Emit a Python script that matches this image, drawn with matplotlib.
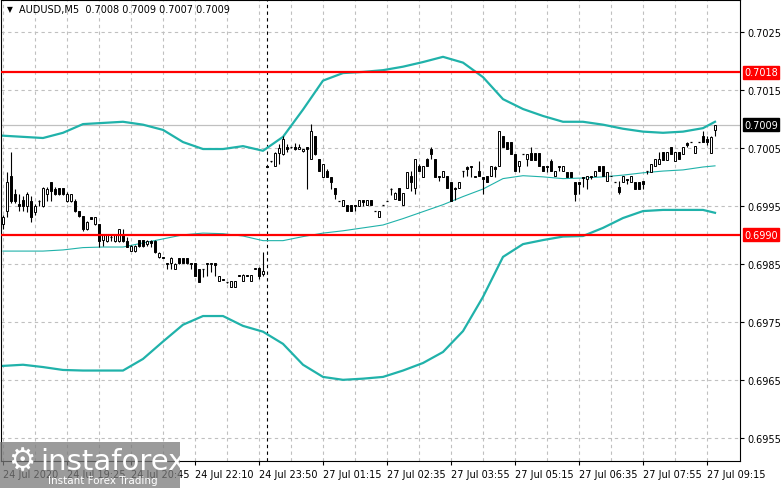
import matplotlib
matplotlib.use('Agg')
from matplotlib import pyplot as plt
from matplotlib.patches import Rectangle
import numpy as np

# AUDUSD M5 candles
opens = [0.69919, 0.69941, 0.70002, 0.69971, 0.69953, 0.69960, 0.69950, 0.69959, 0.69940, 0.69959,
         0.69950, 0.69971, 0.69991, 0.69979, 0.69981, 0.69981, 0.69959, 0.69959, 0.69959, 0.69941,
         0.69933, 0.69910, 0.69931, 0.69919, 0.69919, 0.69891, 0.69890, 0.69897, 0.69890, 0.69890,
         0.69902, 0.69890, 0.69872, 0.69872, 0.69891, 0.69891, 0.69884, 0.69890, 0.69890, 0.69862,
         0.69862, 0.69850, 0.69852, 0.69841, 0.69860, 0.69860, 0.69860, 0.69852, 0.69852, 0.69841,
         0.69841, 0.69850, 0.69850, 0.69852, 0.69821, 0.69824, 0.69819, 0.69810, 0.69810, 0.69831,
         0.69821, 0.69831, 0.69821, 0.69841, 0.69843, 0.69833, 0.70019, 0.70028, 0.70019, 0.70041,
         0.70040, 0.70052, 0.70052, 0.70052, 0.70048, 0.70045, 0.70052, 0.70031, 0.70071, 0.70031,
         0.70000, 0.70010, 0.70000, 0.69981, 0.69959, 0.69950, 0.69952, 0.69952, 0.69952, 0.69950,
         0.69960, 0.69952, 0.69960, 0.69941, 0.69931, 0.69952, 0.69959, 0.69979, 0.69962, 0.69981,
         0.69952, 0.69981, 0.70002, 0.69981, 0.70019, 0.70000, 0.70031, 0.70048, 0.70031, 0.70002,
         0.70000, 0.70002, 0.69991, 0.69981, 0.69981, 0.70010, 0.70017, 0.70019, 0.70002, 0.70010,
         0.70000, 0.70002, 0.70002, 0.70017, 0.70019, 0.70071, 0.70060, 0.70060, 0.70040, 0.70019,
         0.70040, 0.70031, 0.70041, 0.70041, 0.70041, 0.70019, 0.70019, 0.70028, 0.70002, 0.70019,
         0.70010, 0.70009, 0.70009, 0.69991, 0.69991, 0.70000, 0.69997, 0.70002, 0.70002, 0.70019,
         0.70019, 0.69993, 0.70002, 0.69991, 0.69983, 0.69991, 0.69997, 0.69991, 0.69991, 0.69991,
         0.69993, 0.70010, 0.70009, 0.70019, 0.70022, 0.70043, 0.70029, 0.70052, 0.70028, 0.70043,
         0.70040, 0.70059, 0.70060, 0.70041, 0.70060, 0.70071, 0.70066, 0.70041, 0.70080]
highs = [0.69934, 0.70009, 0.70043, 0.69979, 0.69971, 0.69967, 0.69974, 0.69967, 0.69953, 0.69960,
         0.69983, 0.69983, 0.69991, 0.69983, 0.69981, 0.69981, 0.69974, 0.69971, 0.69962, 0.69941,
         0.69933, 0.69924, 0.69931, 0.69931, 0.69919, 0.69900, 0.69902, 0.69900, 0.69902, 0.69910,
         0.69910, 0.69897, 0.69883, 0.69883, 0.69891, 0.69891, 0.69891, 0.69891, 0.69891, 0.69871,
         0.69862, 0.69852, 0.69862, 0.69852, 0.69860, 0.69860, 0.69860, 0.69852, 0.69852, 0.69841,
         0.69841, 0.69852, 0.69852, 0.69852, 0.69829, 0.69824, 0.69819, 0.69821, 0.69821, 0.69831,
         0.69833, 0.69831, 0.69831, 0.69843, 0.69845, 0.69871, 0.70019, 0.70028, 0.70043, 0.70057,
         0.70071, 0.70057, 0.70052, 0.70059, 0.70057, 0.70048, 0.70052, 0.70091, 0.70071, 0.70031,
         0.70022, 0.70014, 0.70000, 0.69981, 0.69959, 0.69960, 0.69952, 0.69952, 0.69952, 0.69960,
         0.69960, 0.69960, 0.69960, 0.69941, 0.69941, 0.69952, 0.69959, 0.69981, 0.69974, 0.69981,
         0.69972, 0.70009, 0.70010, 0.70031, 0.70022, 0.70019, 0.70033, 0.70052, 0.70031, 0.70002,
         0.70010, 0.70002, 0.69991, 0.69983, 0.69991, 0.70010, 0.70019, 0.70019, 0.70002, 0.70028,
         0.70000, 0.70002, 0.70019, 0.70019, 0.70079, 0.70071, 0.70060, 0.70060, 0.70040, 0.70028,
         0.70040, 0.70040, 0.70052, 0.70041, 0.70041, 0.70019, 0.70019, 0.70031, 0.70010, 0.70019,
         0.70019, 0.70009, 0.70009, 0.69991, 0.69991, 0.70000, 0.70002, 0.70002, 0.70010, 0.70019,
         0.70019, 0.70009, 0.70002, 0.69991, 0.69993, 0.70002, 0.69997, 0.70002, 0.69991, 0.69991,
         0.69993, 0.70010, 0.70022, 0.70031, 0.70043, 0.70043, 0.70043, 0.70052, 0.70043, 0.70043,
         0.70052, 0.70060, 0.70060, 0.70053, 0.70060, 0.70079, 0.70071, 0.70071, 0.70090]
lows = [0.69910, 0.69931, 0.69955, 0.69955, 0.69941, 0.69941, 0.69940, 0.69922, 0.69934, 0.69950,
        0.69948, 0.69959, 0.69959, 0.69969, 0.69969, 0.69969, 0.69957, 0.69957, 0.69940, 0.69931,
        0.69907, 0.69909, 0.69928, 0.69917, 0.69879, 0.69881, 0.69888, 0.69890, 0.69888, 0.69888,
        0.69888, 0.69879, 0.69872, 0.69871, 0.69879, 0.69879, 0.69881, 0.69879, 0.69869, 0.69860,
        0.69860, 0.69841, 0.69841, 0.69841, 0.69850, 0.69852, 0.69850, 0.69841, 0.69829, 0.69819,
        0.69828, 0.69829, 0.69836, 0.69829, 0.69821, 0.69822, 0.69817, 0.69810, 0.69810, 0.69829,
        0.69821, 0.69829, 0.69821, 0.69841, 0.69824, 0.69829, 0.70017, 0.70026, 0.70019, 0.70022,
        0.70038, 0.70043, 0.70050, 0.70047, 0.70048, 0.70043, 0.69979, 0.70031, 0.70038, 0.70010,
        0.70000, 0.70000, 0.69979, 0.69962, 0.69959, 0.69950, 0.69941, 0.69941, 0.69941, 0.69950,
        0.69950, 0.69952, 0.69952, 0.69941, 0.69931, 0.69952, 0.69959, 0.69969, 0.69962, 0.69960,
        0.69952, 0.69981, 0.69976, 0.69971, 0.70010, 0.70000, 0.70019, 0.70031, 0.70000, 0.69993,
        0.70000, 0.69981, 0.69959, 0.69960, 0.69981, 0.70000, 0.70002, 0.70000, 0.70000, 0.70002,
        0.69971, 0.69991, 0.70002, 0.70000, 0.70019, 0.70052, 0.70048, 0.70040, 0.70010, 0.70009,
        0.70040, 0.70019, 0.70029, 0.70029, 0.70019, 0.70010, 0.70009, 0.70010, 0.70002, 0.70010,
        0.70010, 0.70000, 0.70000, 0.69959, 0.69971, 0.69983, 0.69979, 0.69997, 0.70002, 0.70010,
        0.70002, 0.69993, 0.70002, 0.69991, 0.69971, 0.69991, 0.69988, 0.69991, 0.69979, 0.69979,
        0.69979, 0.70005, 0.70009, 0.70019, 0.70022, 0.70029, 0.70029, 0.70040, 0.70028, 0.70031,
        0.70040, 0.70052, 0.70060, 0.70041, 0.70060, 0.70060, 0.70055, 0.70041, 0.70070]
closes = [0.69931, 0.69991, 0.69959, 0.69959, 0.69950, 0.69950, 0.69971, 0.69931, 0.69950, 0.69960,
          0.69981, 0.69979, 0.69976, 0.69971, 0.69971, 0.69971, 0.69971, 0.69971, 0.69941, 0.69933,
          0.69910, 0.69922, 0.69928, 0.69931, 0.69890, 0.69900, 0.69900, 0.69898, 0.69900, 0.69910,
          0.69890, 0.69879, 0.69881, 0.69881, 0.69881, 0.69881, 0.69890, 0.69886, 0.69871, 0.69869,
          0.69860, 0.69852, 0.69860, 0.69850, 0.69852, 0.69852, 0.69852, 0.69850, 0.69829, 0.69819,
          0.69840, 0.69852, 0.69852, 0.69848, 0.69829, 0.69822, 0.69819, 0.69821, 0.69821, 0.69829,
          0.69831, 0.69829, 0.69831, 0.69843, 0.69829, 0.69838, 0.70017, 0.70028, 0.70041, 0.70050,
          0.70066, 0.70048, 0.70052, 0.70048, 0.70052, 0.70048, 0.70048, 0.70079, 0.70040, 0.70010,
          0.70022, 0.70000, 0.69991, 0.69971, 0.69959, 0.69960, 0.69941, 0.69941, 0.69950, 0.69960,
          0.69957, 0.69960, 0.69952, 0.69941, 0.69941, 0.69952, 0.69959, 0.69978, 0.69972, 0.69960,
          0.69972, 0.70009, 0.69991, 0.70031, 0.70010, 0.70019, 0.70019, 0.70040, 0.70000, 0.70000,
          0.70010, 0.69981, 0.69959, 0.69979, 0.69991, 0.70009, 0.70014, 0.70017, 0.70000, 0.70002,
          0.69997, 0.69991, 0.70019, 0.70014, 0.70079, 0.70052, 0.70048, 0.70040, 0.70010, 0.70028,
          0.70040, 0.70040, 0.70029, 0.70029, 0.70019, 0.70010, 0.70017, 0.70010, 0.70010, 0.70017,
          0.70019, 0.70000, 0.70000, 0.69971, 0.69988, 0.69998, 0.70002, 0.70000, 0.70010, 0.70010,
          0.70002, 0.70009, 0.70002, 0.69991, 0.69974, 0.70002, 0.69995, 0.70002, 0.69979, 0.69979,
          0.69988, 0.70009, 0.70022, 0.70031, 0.70031, 0.70029, 0.70043, 0.70040, 0.70043, 0.70031,
          0.70052, 0.70055, 0.70060, 0.70053, 0.70060, 0.70060, 0.70060, 0.70069, 0.70090]

# Bollinger bands, read every 5 bars
band_bars = list(range(0, 180, 5)) + [178]
band_upper = [0.70071, 0.70069, 0.70067, 0.70076, 0.70091, 0.70093, 0.70095, 0.70090, 0.70081, 0.70060,
              0.70048, 0.70048, 0.70053, 0.70045, 0.70069, 0.70116, 0.70166, 0.70179, 0.70181, 0.70184,
              0.70190, 0.70198, 0.70207, 0.70197, 0.70172, 0.70134, 0.70117, 0.70105, 0.70095, 0.70095,
              0.70090, 0.70083, 0.70078, 0.70076, 0.70078, 0.70084, 0.70095]
band_middle = [0.69872, 0.69872, 0.69872, 0.69874, 0.69878, 0.69879, 0.69879, 0.69886, 0.69893, 0.69900,
               0.69903, 0.69902, 0.69898, 0.69890, 0.69890, 0.69897, 0.69903, 0.69907, 0.69912, 0.69917,
               0.69928, 0.69940, 0.69952, 0.69966, 0.69979, 0.69997, 0.70002, 0.70000, 0.69997, 0.69998,
               0.70000, 0.70003, 0.70007, 0.70010, 0.70012, 0.70017, 0.70019]
band_lower = [0.69674, 0.69676, 0.69672, 0.69667, 0.69666, 0.69666, 0.69666, 0.69686, 0.69716, 0.69745,
              0.69760, 0.69760, 0.69743, 0.69733, 0.69712, 0.69676, 0.69655, 0.69650, 0.69652, 0.69655,
              0.69666, 0.69679, 0.69698, 0.69734, 0.69793, 0.69862, 0.69884, 0.69891, 0.69897, 0.69898,
              0.69912, 0.69929, 0.69941, 0.69943, 0.69943, 0.69943, 0.69938]

levels = [0.7018, 0.6990]
last_price = 0.7009
separator_bar = 66
time_labels = ['24 Jul 2020', '24 Jul 19:25', '24 Jul 20:45', '24 Jul 22:10', '24 Jul 23:50',
               '27 Jul 01:15', '27 Jul 02:35', '27 Jul 03:55', '27 Jul 05:15', '27 Jul 06:35',
               '27 Jul 07:55', '27 Jul 09:15']
price_ticks = [0.6955, 0.6965, 0.6975, 0.6985, 0.6995, 0.7005, 0.7015, 0.7025]

W, H = 781, 489
fig = plt.figure(figsize=(W / 100, H / 100), dpi=100)
ax = fig.add_axes([1 / W, 27 / H, 739 / W, 461 / H])

n = len(opens)
x = np.arange(n)
o = np.array(opens); c = np.array(closes)
hi = np.array(highs); lo = np.array(lows)

# wicks
ax.vlines(x, lo, hi, color='black', linewidth=0.8, zorder=3)
# bodies
bw = 0.7
for i in range(n):
    if abs(c[i] - o[i]) < 0.000015:
        ax.hlines(o[i], i - bw / 2, i + bw / 2, color='black', linewidth=0.9, zorder=4)
    elif c[i] > o[i]:
        ax.bar(i, c[i] - o[i], bottom=o[i], width=bw, facecolor='white',
               edgecolor='black', linewidth=0.7, zorder=4)
    else:
        ax.bar(i, o[i] - c[i], bottom=c[i], width=bw, facecolor='black',
               edgecolor='black', linewidth=0.7, zorder=4)

# bands
teal = '#20b2aa'
ax.plot(band_bars, band_upper, color=teal, linewidth=1.6, zorder=2, solid_joinstyle='round')
ax.plot(band_bars, band_lower, color=teal, linewidth=1.6, zorder=2, solid_joinstyle='round')
ax.plot(band_bars, band_middle, color=teal, linewidth=0.8, zorder=2)

# levels
for lv in levels:
    ax.axhline(lv, color='red', linewidth=1.6, zorder=5)
ax.axhline(last_price, color='#c0c0c0', linewidth=0.9, zorder=1)
ax.axvline(separator_bar, color='black', linewidth=0.8, linestyle=(0, (3, 3)), zorder=1)

ax.set_xlim(-0.5, 184.25)
ax.set_ylim(0.69510, 0.70305)

# grid
ax.set_xticks(np.arange(0, 16 * len(time_labels), 16))
ax.set_xticklabels(time_labels, ha='left')
ax.set_xticks(np.arange(0, 184, 8), minor=True)
ax.set_yticks(price_ticks)
ax.set_yticklabels(['%.4f' % p for p in price_ticks])
ax.grid(True, which='both', color='#c0c0c0', linestyle=(0, (3, 3)), linewidth=0.8)
ax.set_axisbelow(True)

ax.yaxis.tick_right()
ax.tick_params(axis='y', labelsize=7, length=3, pad=2, colors='black')
ax.tick_params(axis='x', which='major', labelsize=7, length=3, pad=3)
ax.tick_params(axis='x', which='minor', length=0)
for sp in ax.spines.values():
    sp.set_linewidth(0.8)

# price tags on the right axis
def tag(price, txt, bg):
    ax.annotate(txt, xy=(1.0, price), xycoords=('axes fraction', 'data'),
                xytext=(3, 0), textcoords='offset points', va='center', ha='left',
                fontsize=7, color='white', zorder=10, annotation_clip=False,
                bbox=dict(boxstyle='square,pad=0.15', facecolor=bg, edgecolor=bg))

tag(0.7018, '0.7018', 'red')
tag(0.6990, '0.6990', 'red')
tag(last_price, '0.7009', 'black')

# header
fig.text(7 / W, 1 - 10 / H, '\u25bc', fontsize=5.5, va='center', ha='left')
fig.text(19 / W, 1 - 10 / H, 'AUDUSD,M5  0.7008 0.7009 0.7007 0.7009',
         fontsize=7, va='center', ha='left')

# watermark (semi-transparent, labels show through as in the original)
fig.add_artist(Rectangle((0, 0), 180 / W, 46 / H, transform=fig.transFigure,
                         facecolor='#7a7a7a', alpha=0.75, edgecolor='none', zorder=20))
fig.text(22 / W, 1 - 462 / H, '\u2699', fontsize=22, color='white', ha='center',
         va='center', zorder=21)
fig.text(40 / W, 1 - 462 / H, 'instaforex', fontsize=21, color='white', ha='left',
         va='center', zorder=21)
fig.text(48 / W, 1 - 481 / H, 'Instant Forex Trading', fontsize=7.5, color='white',
         ha='left', va='center', zorder=21)

fig.savefig('out.png', dpi=100)
